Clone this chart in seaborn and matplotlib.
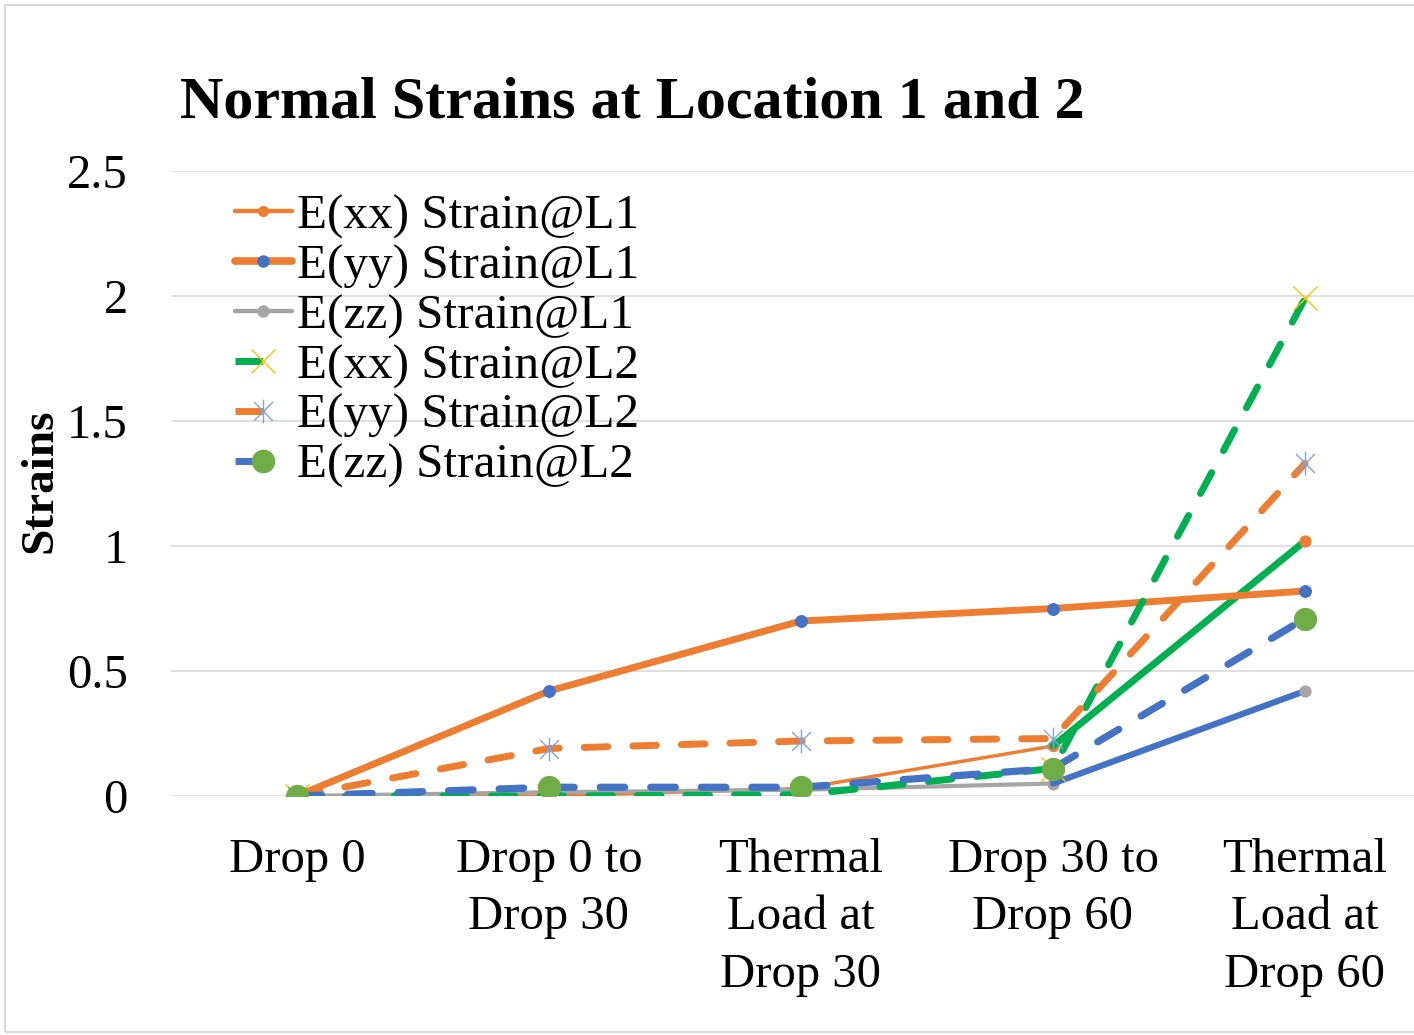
import numpy as np
import matplotlib
matplotlib.use("Agg")
import matplotlib.pyplot as plt
import seaborn as sns
from matplotlib.lines import Line2D
from matplotlib.path import Path
from matplotlib.patches import Rectangle

# data
categories = ["Drop 0", "Drop 0 to\nDrop 30", "Thermal\nLoad at\nDrop 30",
              "Drop 30 to\nDrop 60", "Thermal\nLoad at\nDrop 60"]
exx_l1 = [0.0, 0.0, 0.03, 0.20, 1.02]
eyy_l1 = [0.0, 0.42, 0.70, 0.75, 0.82]
ezz_l1 = [0.0, 0.015, 0.025, 0.05, 0.42]
exx_l2 = [0.0, 0.0, 0.005, 0.11, 1.99]
eyy_l2 = [0.0, 0.19, 0.22, 0.23, 1.33]
ezz_l2 = [0.0, 0.035, 0.035, 0.11, 0.71]
labels = ["E(xx) Strain@L1", "E(yy) Strain@L1", "E(zz) Strain@L1",
          "E(xx) Strain@L2", "E(yy) Strain@L2", "E(zz) Strain@L2"]
yticks = [0, 0.5, 1, 1.5, 2, 2.5]
ytick_labels = ["0", "0.5", "1", "1.5", "2", "2.5"]

orange = "#ED7D31"
blue = "#4472C4"
gray = "#A5A5A5"
yellow = "#FFC000"
green = "#00B050"
dotgreen = "#70AD47"
lightblue = "#7FA3D8"

sns.set_theme(style="white")
plt.rcParams["font.family"] = ["Liberation Serif", "DejaVu Serif"]
plt.rcParams["text.color"] = "black"
plt.rcParams["xtick.color"] = "black"
plt.rcParams["ytick.color"] = "black"

# excel style asterisk marker
ast = Path([(0, -1), (0, 1), (-0.8, -0.8), (0.8, 0.8), (-0.8, 0.8), (0.8, -0.8)],
           [Path.MOVETO, Path.LINETO] * 3)

fig = plt.figure(figsize=(14.14, 10.35), dpi=100)
ax = fig.add_axes([171 / 1414, 239 / 1035, 1260 / 1414, 625 / 1035])
pos = np.arange(len(categories))
dash = (0, (3.4, 3.6))

# E(xx) L1: thin orange, last segment drawn green
sns.lineplot(x=pos[:4], y=exx_l1[:4], ax=ax, color=orange, lw=2.5, marker="o",
             markersize=7.5, markeredgecolor=orange, solid_capstyle="round")
sns.lineplot(x=pos[3:], y=exx_l1[3:], ax=ax, color=green, lw=5, marker="o",
             markevery=[1], markersize=8, markerfacecolor=orange,
             markeredgecolor=orange, solid_capstyle="round")
# E(yy) L1
sns.lineplot(x=pos, y=eyy_l1, ax=ax, color=orange, lw=5, marker="o",
             markersize=8.5, markerfacecolor=blue, markeredgecolor=blue,
             solid_capstyle="round")
# E(zz) L1: gray, last segment blue
sns.lineplot(x=pos[:4], y=ezz_l1[:4], ax=ax, color=gray, lw=3, marker="o",
             markersize=8, markeredgecolor=gray, solid_capstyle="round")
sns.lineplot(x=pos[3:], y=ezz_l1[3:], ax=ax, color=blue, lw=4.5, marker="o",
             markevery=[1], markersize=8, markerfacecolor=gray,
             markeredgecolor=gray, solid_capstyle="round")
# E(xx) L2
sns.lineplot(x=pos, y=exx_l2, ax=ax, color=green, lw=5, linestyle=dash,
             dash_capstyle="round", marker="x", markersize=17,
             markeredgecolor=yellow, markeredgewidth=1.0)
# E(yy) L2
sns.lineplot(x=pos, y=eyy_l2, ax=ax, color=orange, lw=5, linestyle=dash,
             dash_capstyle="round", marker=ast, markersize=17,
             markeredgecolor=lightblue, markerfacecolor="none", markeredgewidth=1.0)
# E(zz) L2
sns.lineplot(x=pos, y=ezz_l2, ax=ax, color=blue, lw=5.2, linestyle=dash,
             dash_capstyle="round", marker="o", markersize=16,
             markerfacecolor=dotgreen, markeredgecolor=dotgreen)

ax.set_xlim(-0.5, 4.5)
ax.set_ylim(0, 2.5)
ax.set_xticks(pos)
ax.set_xticklabels(categories, fontsize=35, linespacing=1.4)
ax.set_yticks(yticks)
ax.set_yticklabels(ytick_labels, fontsize=35)
ax.tick_params(axis="both", length=0)
ax.tick_params(axis="x", pad=30)
ax.tick_params(axis="y", pad=31)
ax.yaxis.grid(True, color="#D9D9D9", lw=1.2)
ax.xaxis.grid(False)
ax.set_axisbelow(True)
for s in ax.spines.values():
    s.set_visible(False)
ax.set_xlabel("")
ax.set_ylabel("")

fig.text(40 / 1414, 1 - 481 / 1035, "Strains", rotation=90, ha="center",
         va="center", fontsize=34, fontweight="bold")
fig.text(180 / 1414, 1 - 117 / 1035, "Normal Strains at Location 1 and 2",
         ha="left", va="baseline", fontsize=43.3, fontweight="bold")

handles = [
    Line2D([], [], color=orange, lw=3.2, marker="o", markersize=7, markeredgecolor=orange),
    Line2D([], [], color=orange, lw=5.5, marker="o", markersize=8,
           markerfacecolor=blue, markeredgecolor=blue),
    Line2D([], [], color=gray, lw=3.2, marker="o", markersize=8, markeredgecolor=gray),
    Line2D([], [], color=green, lw=5, linestyle=(0, (4, 8)), marker="x",
           markersize=17, markeredgecolor=yellow, markeredgewidth=1.0),
    Line2D([], [], color=orange, lw=5, linestyle=(0, (4, 8)), marker=ast,
           markersize=17, markeredgecolor=lightblue, markerfacecolor="none",
           markeredgewidth=1.0),
    Line2D([], [], color=blue, lw=5, linestyle=(0, (4, 8)), marker="o",
           markersize=16, markerfacecolor=dotgreen, markeredgecolor=dotgreen),
]
ax.legend(handles, labels, loc="upper left", bbox_to_anchor=(64 / 1260, 0.963),
          frameon=False, fontsize=35.5, handlelength=1.15, handletextpad=0.1,
          labelspacing=0.1, borderpad=0, borderaxespad=0, numpoints=1)

fig.add_artist(Rectangle((5 / 1414, 3 / 1035), 1.2, 1 - 8 / 1035,
                         transform=fig.transFigure, fill=False,
                         edgecolor="#D9D9D9", lw=1.5))

fig.savefig("out.png", dpi=100)
